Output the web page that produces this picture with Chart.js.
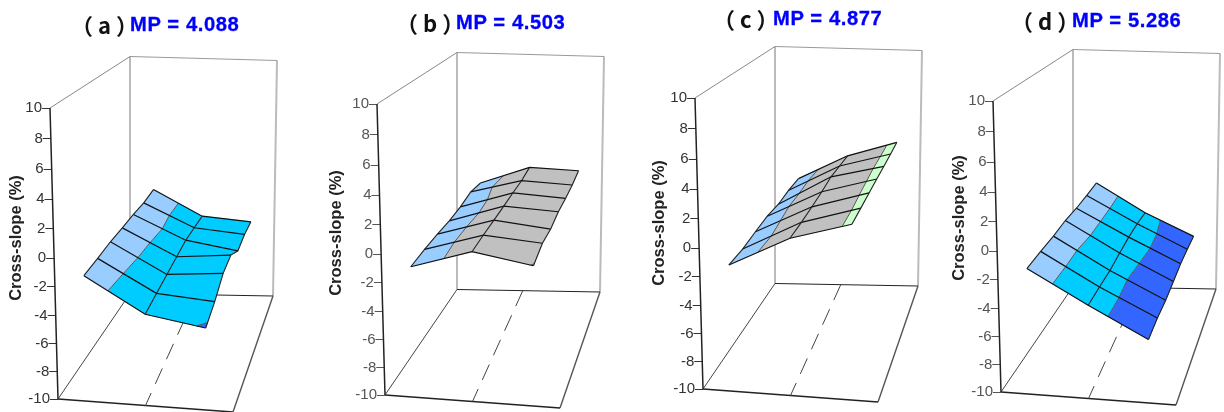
<!DOCTYPE html>
<html><head><meta charset="utf-8">
<script src="https://cdn.jsdelivr.net/npm/chart.js@4/dist/chart.umd.js"></script>
<style>
html,body{margin:0;padding:0;background:#fff;width:1224px;height:412px;overflow:hidden}
canvas{position:absolute}
.tag,.mp{position:absolute;white-space:pre;line-height:30px}
.tag{font:700 22px/30px "Noto Sans CJK SC",sans-serif;color:#111;letter-spacing:5px}
.mp{font:700 20.2px/30px "Liberation Sans",Arial,sans-serif;color:#0000ff;letter-spacing:.6px;-webkit-text-stroke:.3px #0000ff}
</style></head><body>
<script>
// ---- data: cross-slope (%) at 7 stations, front to back, on 3 lateral lines ----
const tickValues = [-10,-8,-6,-4,-2,0,2,4,6,8,10];
const axisTitle = 'Cross-slope (%)';
const panelTags = ['（a）','（b）','（c）','（d）'];
const panelTitles = ['MP = 4.088','MP = 4.503','MP = 4.877','MP = 5.286'];
const lateralLines = [0.162,0.5,0.838];
const stations = [0,1/6,2/6,3/6,4/6,5/6,1];

const aLeft  = [-1.07,-1.02,-0.93,-0.96,-0.95,-1.02,-0.88];
const aMid   = [-3.45,-3.28,-3.14,-3.00,-2.85,-2.96,-3.07];
const aRight = [-4.10,-3.60,-2.82,-2.67,-3.55,-3.38,-3.47];

const bLeft  = [-0.73,-0.66,-0.66,-0.73,-0.66,-0.44,-0.66];
const bMid   = [0.62,0.64,0.62,0.61,0.62,0.60,0.75];
const bRight = [-0.03,0.33,0.20,0.38,0.34,0.38,0.56];

const cLeft  = [-1.02,-1.07,-0.93,-0.83,-0.93,-0.80,-0.80];
const cMid   = [1.13,1.12,1.16,1.25,1.41,1.31,1.22];
const cRight = [2.40,2.40,2.42,2.42,2.40,2.42,2.45];

const dLeft  = [-1.06,-1.02,-1.03,-0.93,-1.01,-0.98,-0.91];
const dMid   = [-3.31,-3.33,-3.37,-3.26,-3.17,-3.21,-3.38];
const dRight = [-5.42,-5.32,-5.41,-5.30,-5.18,-5.24,-5.35];

const bandEdges  = [-6,-4,-2,0,2.2,4];
const bandColors = ['#3366FF','#00CCFF','#99CCFF','#C0C0C0','#CCFFCC'];

// ---- layout ----
const surfaces = [[aLeft,aMid,aRight],[bLeft,bMid,bRight],[cLeft,cMid,cRight],[dLeft,dMid,dRight]];
const canvasLeft = [0,327,645,943], canvasTop = [0,-4,-10,-7];
const tickColors = ['#333','#555','#333','#555'];
const titleX = [16,9,14,16], titleY = [238,237,233,225];
const tagPos = [[71,9],[396,7],[713,3],[1011,5]];
const mpPos  = [[130,9],[456,7],[773,3],[1072,5]];
const W = 281, H = 424, axisRight = 50, topPx = 108, botPx = 399;

// box corners in canvas pixels: [u][v][bottom/top]
const corners = {
  '000':[58,399],'100':[233,412],'110':[273,296],'010':[130,293.5],
  '001':[50,108],'101':[239,122],'111':[277,60.5],'011':[130,56.5]
};
const depthWeight = 1.235, heightWeight = 0.94;
function project(u,v,z){
  const t=(z+10)/20; let sx=0,sy=0,sw=0;
  for(const a of [0,1])for(const b of [0,1])for(const c of [0,1]){
    const w=(a?u:1-u)*(b?v:1-v)*(c?t:1-t)*(b?depthWeight:1)*(c?heightWeight:1);
    const p=corners[''+a+b+c]; sx+=w*p[0]; sy+=w*p[1]; sw+=w;
  }
  const px=sx/sw, py=sy/sw;
  return {x:px, y:-10+(botPx-py)/(botPx-topPx)*20};
}
function clip(poly,test,val){
  const out=[];
  for(let i=0;i<poly.length;i++){
    const a=poly[i],b=poly[(i+1)%poly.length];
    const ia=test(a.z),ib=test(b.z);
    if(ia)out.push(a);
    if(ia!==ib){const k=(val-a.z)/(b.z-a.z);
      out.push({u:a.u+k*(b.u-a.u),v:a.v+k*(b.v-a.v),z:val});}
  }
  return out;
}
const pts = n => n.map(p=>project(p.u,p.v,p.z));
const line=(data,color,width,dash)=>({data,showLine:true,fill:false,borderColor:color,borderWidth:width,borderDash:dash||[],
  pointRadius:0,tension:0,clip:false});

function buildDatasets(surf){
  const ds=[];
  const F=(a,b,c)=>project(a,b,c);
  // box
  ds.push(line([F(0,1,-10),F(0,1,10)],'#aaaaaa',1.6));
  ds.push(line([F(1,1,-10),F(1,1,10)],'#bbbbbb',2));
  ds.push(line([F(0,0,10),F(0,1,10)],'#888888',1));
  ds.push(line([F(0,1,10),F(1,1,10)],'#999999',1.2));
  ds.push(line([F(0,0,-10),F(0,1,-10)],'#444444',1));
  ds.push(line([F(0,1,-10),F(1,1,-10)],'#222222',1));
  ds.push(line([F(1,1,-10),F(1,0,-10)],'#555555',1.4));
  ds.push(line([F(0,0,-10),F(1,0,-10)],'#222222',1.3));
  ds.push(line([F(0,0,-10),F(0,0,10)],'#222222',1.5));
  ds.push(line([F(0.46,1,-10),F(0.5,0,-10)],'#444444',1,[17,10]));
  const node=(i,j)=>({u:lateralLines[i],v:stations[j],z:surf[i][j]});
  // band fills
  const seams=[];
  for(let j=0;j<stations.length-1;j++)for(let i=0;i<lateralLines.length-1;i++){
    const quad=[node(i,j),node(i+1,j),node(i+1,j+1),node(i,j+1)];
    bandColors.forEach((col,b)=>{
      const lo=bandEdges[b],hi=bandEdges[b+1];
      let p=clip(quad,z=>z>=lo,lo); if(p.length)p=clip(p,z=>z<=hi,hi);
      if(p.length>2){const c=pts(p);c.push(c[0]);
        ds.push({data:c,showLine:true,fill:'shape',backgroundColor:col,borderColor:col,borderWidth:0.5,pointRadius:0,tension:0,clip:false});}
    });
    bandEdges.forEach(e=>{
      const cut=[];
      quad.forEach((a,k)=>{const b=quad[(k+1)%4];
        if((a.z<e)!==(b.z<e)){const q=(e-a.z)/(b.z-a.z);cut.push({u:a.u+q*(b.u-a.u),v:a.v+q*(b.v-a.v),z:e});}});
      if(cut.length===2)seams.push(pts(cut));
    });
  }
  seams.forEach(s=>ds.push(line(s,'#555555',1)));
  // grid lines
  stations.forEach((v,j)=>ds.push(line(pts(lateralLines.map((u,i)=>node(i,j))),'#111111',1.2)));
  lateralLines.forEach((u,i)=>ds.push(line(pts(stations.map((v,j)=>node(i,j))),'#222222',1.1)));
  ds.forEach((d,k)=>d.order=ds.length-k);
  return ds;
}
const axisTitlePlugin={id:'axisTitlePlugin',afterDraw(chart,a,o){
  const c=chart.ctx;c.save();c.translate(o.x,o.y);c.rotate(-Math.PI/2);
  c.font='bold 16.5px "Liberation Sans",Arial,sans-serif';c.fillStyle='#222';c.textAlign='center';c.textBaseline='middle';
  c.fillText(o.text,0,0);c.restore();
}};
surfaces.forEach((surf,p)=>{
  const cv=document.createElement('canvas');cv.width=W;cv.height=H;
  cv.style.left=canvasLeft[p]+'px';cv.style.top=canvasTop[p]+'px';document.body.appendChild(cv);
  const frontAxis=tickValues.map(z=>project(0,0,z));
  new Chart(cv,{type:'scatter',data:{datasets:buildDatasets(surf)},plugins:[axisTitlePlugin],options:{
    responsive:false,animation:false,devicePixelRatio:1,
    layout:{padding:{top:topPx,bottom:H-botPx,left:0,right:0}},
    plugins:{legend:{display:false},tooltip:{enabled:false},
      axisTitlePlugin:{text:axisTitle,x:titleX[p],y:titleY[p]}},
    scales:{
      x:{type:'linear',display:false,min:axisRight,max:W},
      y:{type:'linear',position:'left',min:-10,max:10,
        afterFit(s){s.width=axisRight;},
        afterBuildTicks(s){s.ticks=frontAxis.map(q=>({value:q.y}));},
        afterUpdate(s){
          if(s._patched)return;s._patched=true;
          const L=s._computeLabelItems.bind(s),G=s._computeGridLineItems.bind(s);
          s._computeLabelItems=ca=>{const it=L(ca);it.forEach((e,i)=>{e.options.translation[0]+=frontAxis[i].x-axisRight;});return it;};
          s._computeGridLineItems=ca=>{const it=G(ca);it.forEach((e,i)=>{const d=frontAxis[i].x-axisRight;e.tx1+=d;e.tx2+=d;});return it;};
        },
        border:{display:false},
        grid:{drawOnChartArea:false,drawTicks:true,tickLength:8,color:tickColors[p],lineWidth:1},
        ticks:{autoSkip:false,padding:0,color:tickColors[p],
          font:{family:'"Liberation Sans",Arial,sans-serif',size:15},
          callback:(v,i)=>String(tickValues[i])}
      }
    }
  }});
  const tag=document.createElement('div');tag.className='tag';tag.textContent=panelTags[p];
  tag.style.left=tagPos[p][0]+'px';tag.style.top=tagPos[p][1]+'px';document.body.appendChild(tag);
  const mp=document.createElement('div');mp.className='mp';mp.textContent=panelTitles[p];
  mp.style.left=mpPos[p][0]+'px';mp.style.top=mpPos[p][1]+'px';document.body.appendChild(mp);
});
</script>
</body></html>
